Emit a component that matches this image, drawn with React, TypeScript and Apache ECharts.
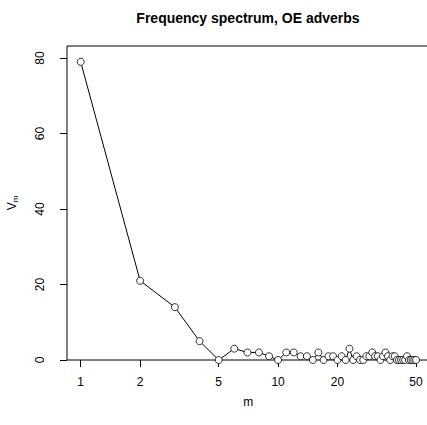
import React, { useEffect, useRef } from "react";
import * as echarts from "echarts";

const titleText = "Frequency spectrum, OE adverbs";
const xName = "m";
const mValues = [
  1, 2, 3, 4, 5, 6, 7, 8, 9, 10,
  11, 12, 13, 14, 15, 16, 17, 18, 19, 20,
  21, 22, 23, 24, 25, 26, 27, 28, 29, 30,
  31, 32, 33, 34, 35, 36, 37, 38, 39, 40,
  41, 42, 43, 44, 45, 46, 47, 48, 49, 50,
];
const vmValues = [
  79, 21, 14, 5, 0, 3, 2, 2, 1, 0,
  2, 2, 1, 1, 0, 2, 0, 1, 1, 0,
  1, 0, 3, 0, 1, 0, 0, 1, 1, 2,
  1, 1, 0, 1, 2, 1, 0, 1, 1, 0,
  0, 0, 0, 0, 1, 0, 0, 0, 0, 0,
];
const xTicks = [1, 2, 5, 10, 20, 50];
const yTicks = [0, 20, 40, 60, 80];

const FONT = "'Liberation Sans', Arial, Helvetica, sans-serif";

export default function App() {
  const ref = useRef<HTMLDivElement>(null);
  useEffect(() => {
    if (!ref.current) return;
    const chart = echarts.init(ref.current, undefined, { renderer: "svg" });
    const data = mValues.map((m, i) => [m, vmValues[i]]);
    chart.setOption({
      animation: false,
      backgroundColor: "#ffffff",
      textStyle: { fontFamily: FONT, color: "#000" },
      graphic: [
        {
          type: "text",
          x: 248,
          y: 18,
          style: {
            text: titleText,
            font: `bold 14px ${FONT}`,
            fill: "#000",
            textAlign: "center",
            textVerticalAlign: "middle",
          },
        },
      ],
      grid: {
        left: 67,
        top: 46,
        width: 362.5,
        height: 314,
        show: true,
        borderColor: "#000",
        borderWidth: 1,
        backgroundColor: "transparent",
        containLabel: false,
        outerBoundsMode: "none",
      },
      xAxis: {
        type: "log",
        logBase: 10,
        min: 0.8523,
        max: 58.5,
        name: xName,
        nameLocation: "middle",
        nameGap: 36,
        nameTextStyle: { fontSize: 12, color: "#000", fontFamily: FONT },
        axisLine: { show: false },
        splitLine: { show: false },
        minorTick: { show: false },
        axisTick: {
          show: true,
          length: 7,
          inside: false,
          lineStyle: { color: "#000", width: 1 },
          customValues: xTicks,
        },
        axisLabel: {
          show: true,
          fontSize: 12,
          color: "#000",
          fontFamily: FONT,
          margin: 16,
          customValues: xTicks,
          formatter: (v: number) => String(Math.round(v)),
          showMinLabel: true,
          showMaxLabel: true,
          hideOverlap: false,
        },
      },
      yAxis: {
        type: "value",
        min: 0,
        max: 83.2,
        name: "{a|V}{b|m}",
        nameLocation: "middle",
        nameRotate: 90,
        nameGap: 48,
        nameTextStyle: {
          color: "#000",
          fontFamily: FONT,
          rich: {
            a: { fontSize: 12, fontFamily: FONT, color: "#000", lineHeight: 14 },
            b: {
              fontSize: 8,
              fontFamily: FONT,
              color: "#000",
              lineHeight: 14,
              verticalAlign: "bottom",
              padding: [6, 0, 0, 0],
            },
          },
        },
        axisLine: { show: false },
        splitLine: { show: false },
        axisTick: {
          show: true,
          length: 7,
          inside: false,
          lineStyle: { color: "#000", width: 1 },
          customValues: yTicks,
        },
        axisLabel: {
          show: true,
          rotate: 90,
          fontSize: 12,
          color: "#000",
          fontFamily: FONT,
          margin: 21,
          customValues: yTicks,
          formatter: (v: number) => String(v),
        },
      },
      series: [
        {
          type: "line",
          data,
          symbol: "circle",
          symbolSize: 7,
          showAllSymbol: true,
          lineStyle: { color: "#000", width: 1 },
          itemStyle: { color: "#fff", borderColor: "#000", borderWidth: 0.8 },
          emphasis: { disabled: true },
          clip: false,
        },
      ],
    });
    return () => chart.dispose();
  }, []);
  return (
    <div
      ref={ref}
      style={{ position: "fixed", left: 0, top: 0, width: 427, height: 425, background: "#fff" }}
    />
  );
}
